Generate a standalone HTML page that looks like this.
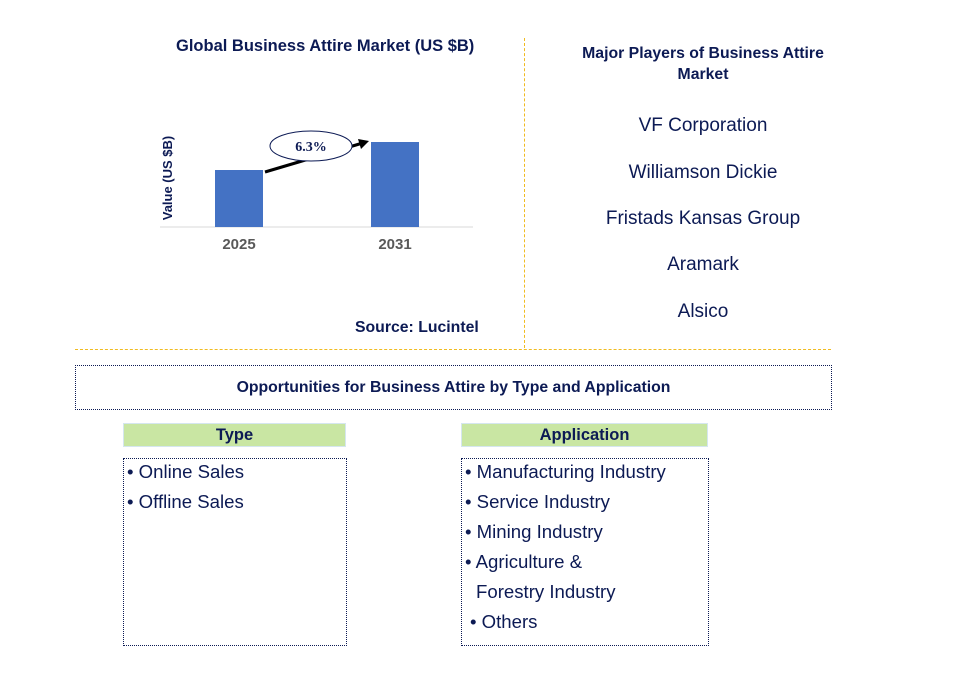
<!DOCTYPE html>
<html><head><meta charset="utf-8"><style>
body{margin:0;width:960px;height:686px;background:#fff;font-family:"Liberation Sans",sans-serif;position:relative;overflow:hidden}
.a{position:absolute}
.t{color:#0c1a54;font-weight:bold;font-size:16.5px}
.p{color:#0c1a54;font-size:19px;text-align:center;width:260px;left:573px}
.hd{background:#c9e6a3;border:1px solid #d5e6ef;text-align:center;font-weight:bold;color:#0c1a54;font-size:16.5px;height:22px;line-height:22px}
.bx{border:1px dotted #0c1a54;font-size:18.6px;color:#0c1a54}
.bx div{height:30px;line-height:26px}
</style></head><body>
<div class="a t" style="left:176px;top:37px">Global Business Attire Market (US $B)</div>
<svg class="a" style="left:0;top:0" width="500" height="270" id="chart">
<line x1="160" y1="227" x2="473" y2="227" stroke="#d9d9d9"/>
<text transform="translate(172,178) rotate(-90)" text-anchor="middle" font-size="13" font-weight="bold" fill="#0c1a54" font-family="Liberation Sans">Value (US $B)</text>
</svg>
<div class="a t" style="left:355px;top:319px;font-size:15.8px">Source: Lucintel</div>
<div class="a" style="left:524px;top:38px;height:310px;border-left:1px dashed #f0bb20"></div>
<div class="a" style="left:75px;top:349px;width:756px;height:0;border-top:1px dashed #f0bb20"></div>
<div class="a t" style="left:563px;top:43px;width:280px;text-align:center;line-height:21px;font-size:15.8px">Major Players of Business Attire Market</div>
<div class="a p" style="top:115px">VF Corporation</div>
<div class="a p" style="top:162px">Williamson Dickie</div>
<div class="a p" style="top:208px">Fristads Kansas Group</div>
<div class="a p" style="top:254px">Aramark</div>
<div class="a p" style="top:301px">Alsico</div>
<div class="a t" style="left:75px;top:365px;width:755px;height:43px;border:1px dotted #0c1a54;text-align:center;line-height:43px;font-size:15.8px">Opportunities for Business Attire by Type and Application</div>
<div class="a hd" style="left:123px;top:423px;width:221px">Type</div>
<div class="a hd" style="left:461px;top:423px;width:245px">Application</div>
<div class="a bx" style="left:123px;top:458px;width:222px;height:186px"><div style="padding-left:3px">• Online Sales</div><div style="padding-left:3px">• Offline Sales</div></div>
<div class="a bx" style="left:461px;top:458px;width:246px;height:186px"><div style="padding-left:3px">• Manufacturing Industry</div><div style="padding-left:3px">• Service Industry</div><div style="padding-left:3px">• Mining Industry</div><div style="padding-left:3px">• Agriculture &amp;</div><div style="padding-left:14px">Forestry Industry</div><div style="padding-left:8px">• Others</div></div>
<script>
const categories=["2025","2031"];
const values=[57,85];
const cagrLabel="6.3%";
const svg=document.getElementById('chart');
const NS="http://www.w3.org/2000/svg";
const base=227, xs=[239,395], bw=48;
const y=v=>base-v;
const tops=[];
categories.forEach((c,i)=>{
 const r=document.createElementNS(NS,'rect');
 r.setAttribute('x',xs[i]-bw/2);r.setAttribute('y',y(values[i]));r.setAttribute('width',bw);r.setAttribute('height',base-y(values[i]));r.setAttribute('fill','#4472c4');
 
 
 svg.appendChild(r);tops.push(y(values[i]));
 const t=document.createElementNS(NS,'text');
 t.setAttribute('x',xs[i]);t.setAttribute('y',249);t.setAttribute('text-anchor','middle');t.setAttribute('font-size','15');t.setAttribute('font-weight','bold');t.setAttribute('fill','#595959');t.setAttribute('font-family','Liberation Sans');t.textContent=c;
 
 
 svg.appendChild(t);
});
const x1=xs[0]+bw/2+2,y1=tops[0]+2,x2=xs[1]-bw/2-2,y2=tops[1]-1;
const l=document.createElementNS(NS,'line');
l.setAttribute('x1',x1);l.setAttribute('y1',y1);l.setAttribute('x2',x2-8);l.setAttribute('y2',y2+2.5);l.setAttribute('stroke','#000');l.setAttribute('stroke-width','3');


svg.appendChild(l);
const h=document.createElementNS(NS,'polygon');
h.setAttribute('points',`${x2},${y2} ${x2-11},${y2-2} ${x2-8},${y2+8}`);


svg.appendChild(h);
const e=document.createElementNS(NS,'ellipse');
e.setAttribute('cx',311);e.setAttribute('cy',146);e.setAttribute('rx',41);e.setAttribute('ry',15);e.setAttribute('fill','#fff');e.setAttribute('stroke','#0c1a54');


svg.appendChild(e);
const ct=document.createElementNS(NS,'text');
ct.setAttribute('x',311);ct.setAttribute('y',151);ct.setAttribute('text-anchor','middle');ct.setAttribute('font-size','14');ct.setAttribute('font-weight','bold');ct.setAttribute('fill','#0c1a54');ct.setAttribute('font-family','Liberation Serif');ct.textContent=cagrLabel;


svg.appendChild(ct);
</script>
</body></html>
